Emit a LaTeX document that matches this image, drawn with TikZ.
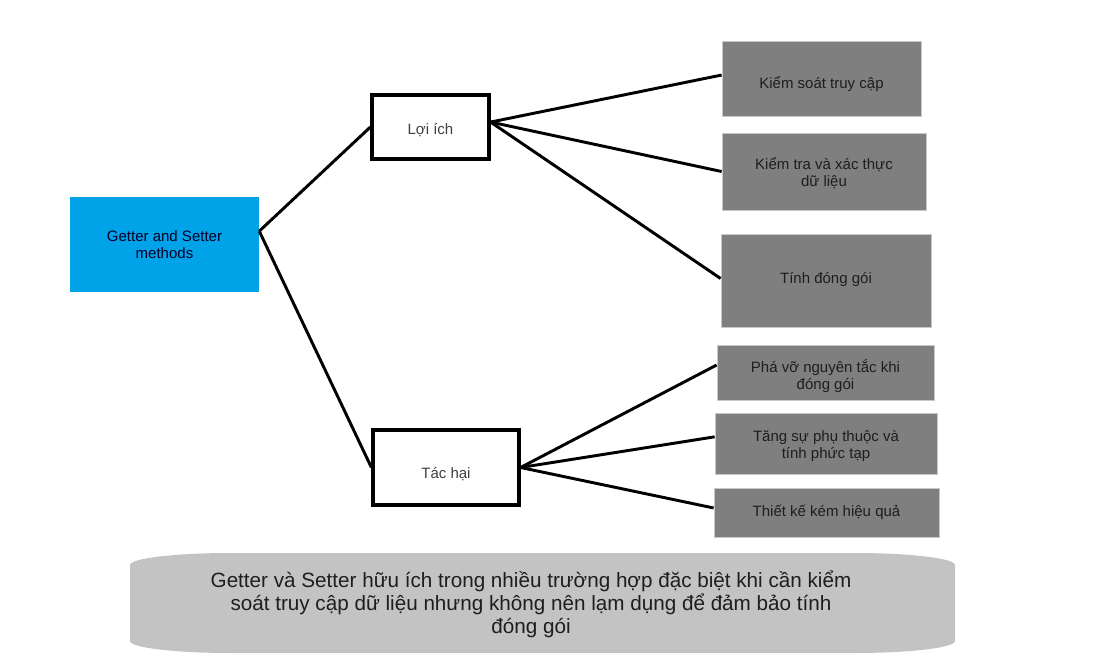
\documentclass[tikz,border=0pt]{standalone}
\usepackage{fontspec}
\setmainfont{Liberation Sans}
\definecolor{rootblue}{RGB}{0,162,232}
\definecolor{boxgrey}{RGB}{127,127,127}
\definecolor{boxedge}{RGB}{200,200,200}
\definecolor{notegrey}{RGB}{195,195,195}
\definecolor{txtdark}{RGB}{30,30,30}
\begin{document}
\begin{tikzpicture}[x=0.75pt,y=-0.75pt,
  smalltxt/.style={font=\fontsize{11.25pt}{12.75pt}\selectfont, align=center, text=txtdark},
  bl/.style={text height=16pt+#1, text depth=16pt-#1},
  rootbox/.style={smalltxt, fill=rootblue, draw=none, inner sep=0pt, text=black!85!blue},
  midbox/.style={smalltxt, fill=white, draw=black, line width=2.4pt, inner sep=0pt, text=black!75},
  leafbox/.style={smalltxt, fill=boxgrey, draw=boxedge, line width=0.6pt, inner sep=0pt},
  link/.style={draw=black, line width=2.2pt},
]
\useasboundingbox (0,0) rectangle (1093,661);
\fill[white] (0,0) rectangle (1093,661);

% bottom note
\fill[notegrey] (230,553) -- (855,553)
  arc[start angle=90, end angle=0, x radius=75pt, y radius=9pt] -- (955,641)
  arc[start angle=0, end angle=-90, x radius=75pt, y radius=9pt] -- (230,653)
  arc[start angle=270, end angle=180, x radius=75pt, y radius=9pt] -- (130,565)
  arc[start angle=180, end angle=90, x radius=75pt, y radius=9pt] -- cycle;
\node[font=\fontsize{15.5pt}{17.25pt}\selectfont, align=center, text=txtdark] (note) at (531,604)
  {Getter và Setter hữu ích trong nhiều trường hợp đặc biệt khi cần kiểm\\
   soát truy cập dữ liệu nhưng không nên lạm dụng để đảm bảo tính\\
   đóng gói};

% nodes
\node[rootbox, minimum width=189*0.75pt, minimum height=95*0.75pt] (root) at (164.5,244.5) {Getter and Setter\\methods};
\node[midbox, bl=5.25pt, minimum width=117*0.75pt, minimum height=64*0.75pt] (loi) at (430.5,127) {Lợi ích};
\node[midbox, bl=7.9pt, minimum width=146*0.75pt, minimum height=75*0.75pt] (tac) at (446,467.5) {Tác hại};

\node[leafbox, bl=7.5pt, minimum width=199*0.75pt, minimum height=75*0.75pt] (k1) at (821.5,78.5) {Kiểm soát truy cập};
\node[leafbox, bl=11pt, minimum width=204*0.75pt, minimum height=77*0.75pt] (k2) at (824,171.5) {Kiểm tra và xác thực\\dữ liệu};
\node[leafbox, bl=1.9pt, minimum width=210*0.75pt, minimum height=93*0.75pt] (k3) at (826,280.5) {Tính đóng gói};
\node[leafbox, bl=13.1pt, minimum width=217*0.75pt, minimum height=55*0.75pt] (t1) at (825.5,372.5) {Phá vỡ nguyên tắc khi\\đóng gói};
\node[leafbox, bl=10.9pt, minimum width=222*0.75pt, minimum height=61*0.75pt] (t2) at (826,443.5) {Tăng sự phụ thuộc và\\tính phức tạp};
\node[leafbox, bl=3.35pt, minimum width=225*0.75pt, minimum height=49*0.75pt] (t3) at (826.5,512.5) {Thiết kế kém hiệu quả};

% connectors
\draw[link] ([yshift=10pt]root.east) -- (loi.west);
\draw[link] ([yshift=10pt]root.east) -- (tac.west);
\draw[link] ([yshift=3.7pt]loi.east) -- ([yshift=2.6pt]k1.west);
\draw[link] ([yshift=3.7pt]loi.east) -- (k2.west);
\draw[link] ([yshift=3.7pt]loi.east) -- ([yshift=1.5pt]k3.west);
\draw[link] (tac.east) -- ([yshift=5.6pt]t1.west);
\draw[link] (tac.east) -- ([yshift=5pt]t2.west);
\draw[link] (tac.east) -- ([yshift=3.4pt]t3.west);
\end{tikzpicture}
\end{document}
